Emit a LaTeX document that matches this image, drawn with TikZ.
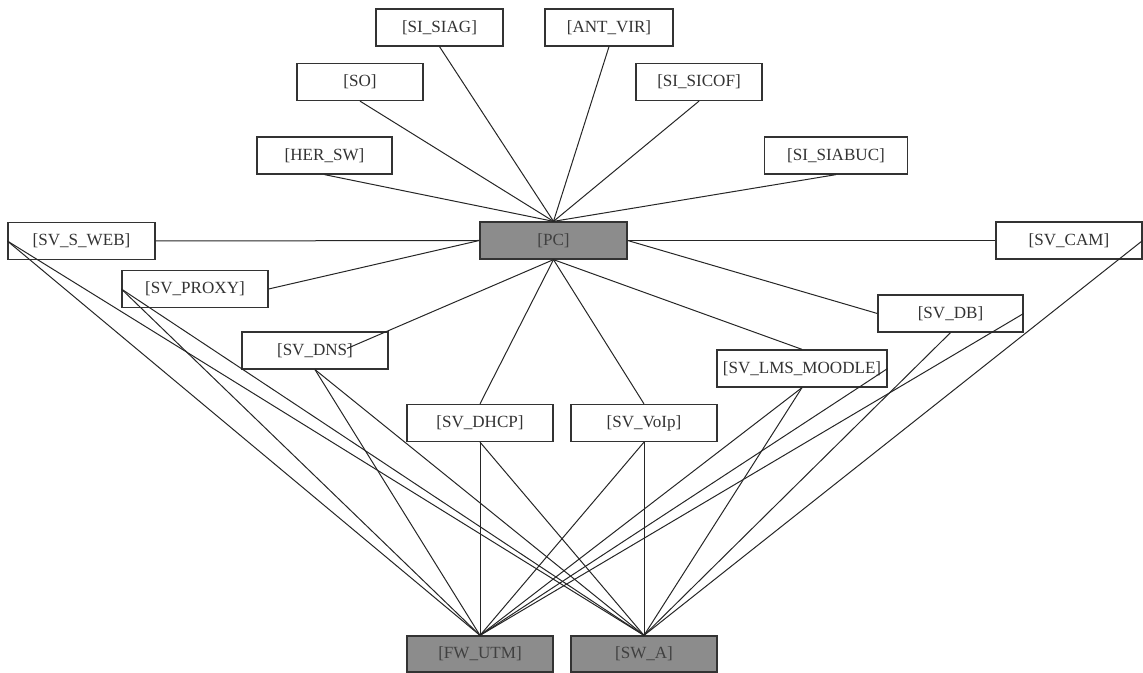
\documentclass[tikz,border=0pt]{standalone}
\usepackage{fontspec}
\setmainfont{Liberation Serif}
\begin{document}
\begin{tikzpicture}[x=0.75pt,y=-0.75pt,
  box/.style={draw=black!80, line width=0.95pt, fill=white, minimum height=27.75pt,
    inner sep=0pt, font=\fontsize{12.8}{14}\selectfont, text=black!80},
  hub/.style={box, fill=black!45, text=black!75},
  link/.style={draw=black!85, line width=0.75pt}]
\useasboundingbox (0,0) rectangle (1143,673);

% top row of systems
\node[box, minimum width=95.25pt]  (sisiag) at (439.5,27.5)  {[SI\_SIAG]};
\node[box, minimum width=96pt]     (antvir) at (609,27.5)    {[ANT\_VIR]};
\node[box, minimum width=94.5pt]   (so)     at (360,82)      {[SO]};
\node[box, minimum width=94.5pt]   (sicof)  at (699,82)      {[SI\_SICOF]};
\node[box, minimum width=101.25pt] (hersw)  at (324.5,155.5) {[HER\_SW]};
\node[box, minimum width=107.25pt] (siabuc) at (836,155.5)   {[SI\_SIABUC]};

% central PC
\node[hub, minimum width=110.25pt] (pc) at (553.5,240.5) {[PC]};

% servers
\node[box, minimum width=110.25pt] (sweb)  at (81.5,241)   {[SV\_S\_WEB]};
\node[box, minimum width=109.5pt]  (cam)   at (1069,240.5) {[SV\_CAM]};
\node[box, minimum width=109.5pt]  (proxy) at (195,289)    {[SV\_PROXY]};
\node[box, minimum width=108.75pt] (db)    at (950.5,313.5){[SV\_DB]};
\node[box, minimum width=109.5pt]  (dns)   at (315,350.5)  {[SV\_DNS]};
\node[box, minimum width=127.5pt]  (lms)   at (802,368.5)  {[SV\_LMS\_MOODLE]};
\node[box, minimum width=109.5pt]  (dhcp)  at (480,423)    {[SV\_DHCP]};
\node[box, minimum width=109.5pt]  (volp)  at (644,423)    {[SV\_VoIp]};

% firewall and switch
\node[hub, minimum width=109.5pt, minimum height=27pt] (fw) at (480,654) {[FW\_UTM]};
\node[hub, minimum width=109.5pt, minimum height=27pt] (sw) at (644,654) {[SW\_A]};

% systems to PC
\foreach \n in {sisiag,antvir,so,sicof,hersw,siabuc}
  \draw[link] (\n.south) -- (pc.north);
\draw[link] (sweb.east) -- (pc.west);
\draw[link] (proxy.east) -- (pc.west);
\draw[link] (pc.east) -- (cam.west);
\draw[link] (pc.east) -- (db.west);
\draw[link] (pc.south) -- ([xshift=24pt,yshift=1.5pt]dns.center);
\draw[link] (pc.south) -- (dhcp.north);
\draw[link] (pc.south) -- (volp.north);
\draw[link] (pc.south) -- (lms.north);

% servers to firewall and switch
\foreach \a in {sweb.west,proxy.west,dns.south,dhcp.south,volp.south,lms.south}{
  \draw[link] (\a) -- (fw.north);
  \draw[link] (\a) -- (sw.north);
}
\draw[link] (lms.east) -- (fw.north);
\draw[link] (db.east) -- (fw.north);
\draw[link] (db.south) -- (sw.north);
\draw[link] (cam.east) -- (sw.north);
\end{tikzpicture}
\end{document}
